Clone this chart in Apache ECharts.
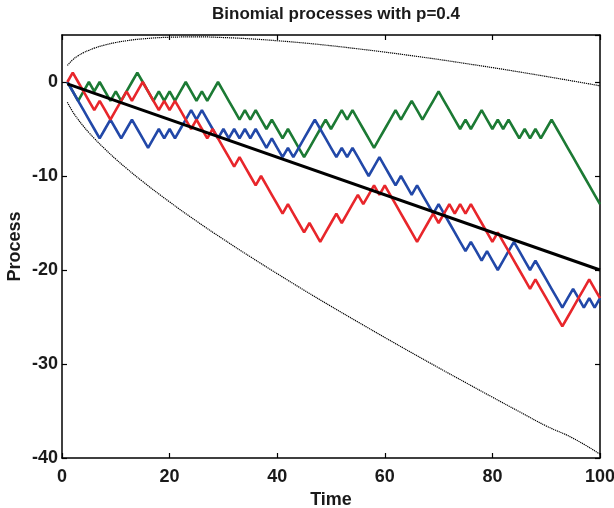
<!DOCTYPE html>
<html>
<head>
<meta charset="utf-8">
<script src="https://cdn.jsdelivr.net/npm/echarts@6/dist/echarts.min.js"></script>
<style>html,body{margin:0;padding:0;background:#fff}#c{width:614px;height:508px}</style>
</head>
<body>
<div id="c"></div>
<script>
const titleText = 'Binomial processes with p=0.4';
const xName = 'Time';
const yName = 'Process';
const xTicks = [0, 20, 40, 60, 80, 100];
const yTicks = [-40, -30, -20, -10, 0];

// walks, value at time t = 1..100
const green = [0,-1,-2,-1,0,-1,0,-1,-2,-1, -2,-1,0,1,0,-1,-2,-1,-2,-1, -2,-1,0,-1,-2,-1,-2,-1,0,-1, -2,-3,-4,-3,-4,-3,-4,-5,-4,-5, -6,-5,-6,-7,-8,-7,-6,-5,-4,-5, -4,-3,-4,-3,-4,-5,-6,-7,-6,-5, -4,-3,-4,-3,-2,-3,-4,-3,-2,-1, -2,-3,-4,-5,-4,-5,-4,-3,-4,-5, -4,-5,-4,-5,-6,-5,-6,-5,-6,-5, -4,-5,-6,-7,-8,-9,-10,-11,-12,-13];
const blue = [0,-1,-2,-3,-4,-5,-6,-5,-4,-5, -6,-5,-4,-5,-6,-7,-6,-5,-6,-5, -6,-5,-4,-3,-4,-3,-4,-5,-6,-5, -6,-5,-6,-5,-6,-5,-6,-7,-6,-7, -8,-7,-8,-7,-6,-5,-4,-5,-6,-7, -8,-7,-8,-7,-8,-9,-10,-9,-8,-9, -10,-11,-10,-11,-12,-11,-12,-13,-14,-13, -14,-15,-16,-17,-18,-17,-18,-19,-18,-19, -20,-19,-18,-17,-18,-19,-20,-19,-20,-21, -22,-23,-24,-23,-22,-23,-24,-23,-24,-23];
const red = [0,1,0,-1,-2,-3,-2,-3,-4,-3, -2,-1,-2,-1,0,-1,-2,-3,-2,-3, -2,-3,-4,-5,-4,-5,-6,-5,-6,-7, -8,-9,-8,-9,-10,-11,-10,-11,-12,-13, -14,-13,-14,-15,-16,-15,-16,-17,-16,-15, -14,-15,-14,-13,-12,-13,-12,-11,-12,-11, -12,-13,-14,-15,-16,-17,-16,-15,-14,-15, -14,-13,-14,-13,-14,-13,-14,-15,-16,-17, -16,-17,-18,-19,-20,-21,-22,-21,-22,-23, -24,-25,-26,-25,-24,-23,-22,-21,-22,-23];

// mean line end points
const meanT = [1, 100];
const meanV = [-0.2, -20];

// envelope curves
const bandT = [1,2,3,4,5,6,8,10,12,15,20,25,30,35,40,45,50,55,60,65,70,75,80,85,90,95,100];
const upperV = [1.76,2.37,2.79,3.12,3.38,3.6,3.94,4.2,4.39,4.59,4.76,4.8,4.73,4.59,4.39,4.15,3.86,3.53,3.18,2.8,2.4,1.97,1.53,1.07,0.59,0.1,-0.4];
const lowerV = [-2.16,-3.17,-3.99,-4.72,-5.38,-6.0,-7.14,-8.2,-9.19,-10.59,-12.76,-14.8,-16.73,-18.59,-20.39,-22.15,-23.86,-25.53,-27.18,-28.8,-30.4,-31.97,-33.53,-35.07,-36.59,-37.9,-39.6];

const pairs = (ts, vs) => vs.map((v, i) => [ts[i], v]);
const walk = vs => vs.map((v, i) => [i + 1, v]);

const FONT = '"Liberation Sans", Arial, Helvetica, sans-serif';
const TXT = '#1a1a1a';

const chart = echarts.init(document.getElementById('c'), null, {renderer: 'canvas'});
const axisLine = {show: true, onZero: false, lineStyle: {color: '#000', width: 1.5}};
const tick = {show: true, inside: true, length: 5, lineStyle: {color: '#000', width: 1.2}};
const lab = {fontFamily: FONT, fontWeight: 'bold', fontSize: 18, color: TXT};

chart.setOption({
  animation: false,
  backgroundColor: '#fff',
  title: {
    text: titleText, left: 331, top: 1, textAlign: 'center',
    textStyle: {fontFamily: FONT, fontWeight: 'bold', fontSize: 17, color: TXT}
  },
  grid: {left: 62, right: 14, top: 35, bottom: 50, show: false, containLabel: false, outerBoundsMode: 'none'},
  xAxis: [{
    type: 'value', min: xTicks[0], max: xTicks[xTicks.length - 1], interval: 20,
    position: 'bottom',
    name: xName, nameLocation: 'middle', nameGap: 26,
    nameTextStyle: lab,
    axisLine, axisTick: tick, splitLine: {show: false},
    axisLabel: Object.assign({margin: 10}, lab)
  }, {
    type: 'value', min: 0, max: 100, interval: 20, position: 'top',
    axisLine, axisTick: tick, axisLabel: {show: false}, splitLine: {show: false}
  }],
  yAxis: [{
    type: 'value', min: yTicks[0], max: 5, interval: 10,
    position: 'left',
    name: yName, nameLocation: 'middle', nameGap: 38, nameRotate: 90, nameMoveOverlap: false,
    nameTextStyle: lab,
    axisLine, axisTick: tick, splitLine: {show: false},
    axisLabel: Object.assign({margin: 4, showMaxLabel: false}, lab)
  }, {
    type: 'value', min: -40, max: 5, interval: 10, position: 'right',
    axisLine, axisTick: tick, axisLabel: {show: false}, splitLine: {show: false}
  }],
  series: [
    {type: 'line', data: pairs(bandT, upperV), smooth: true, symbol: 'none', lineStyle: {color: '#000', width: 1.2, type: [1.2, 0.8]}, z: 2},
    {type: 'line', data: pairs(bandT, lowerV), smooth: true, symbol: 'none', lineStyle: {color: '#000', width: 1.2, type: [1.2, 0.8]}, z: 2},
    {type: 'line', data: walk(green), symbol: 'none', lineStyle: {color: '#1c7a34', width: 2.6}, z: 3},
    {type: 'line', data: walk(blue), symbol: 'none', lineStyle: {color: '#2248a8', width: 2.6}, z: 4},
    {type: 'line', data: walk(red), symbol: 'none', lineStyle: {color: '#e8262b', width: 2.6}, z: 5},
    {type: 'line', data: pairs(meanT, meanV), symbol: 'none', lineStyle: {color: '#000', width: 3}, z: 6}
  ]
});
</script>
</body>
</html>
